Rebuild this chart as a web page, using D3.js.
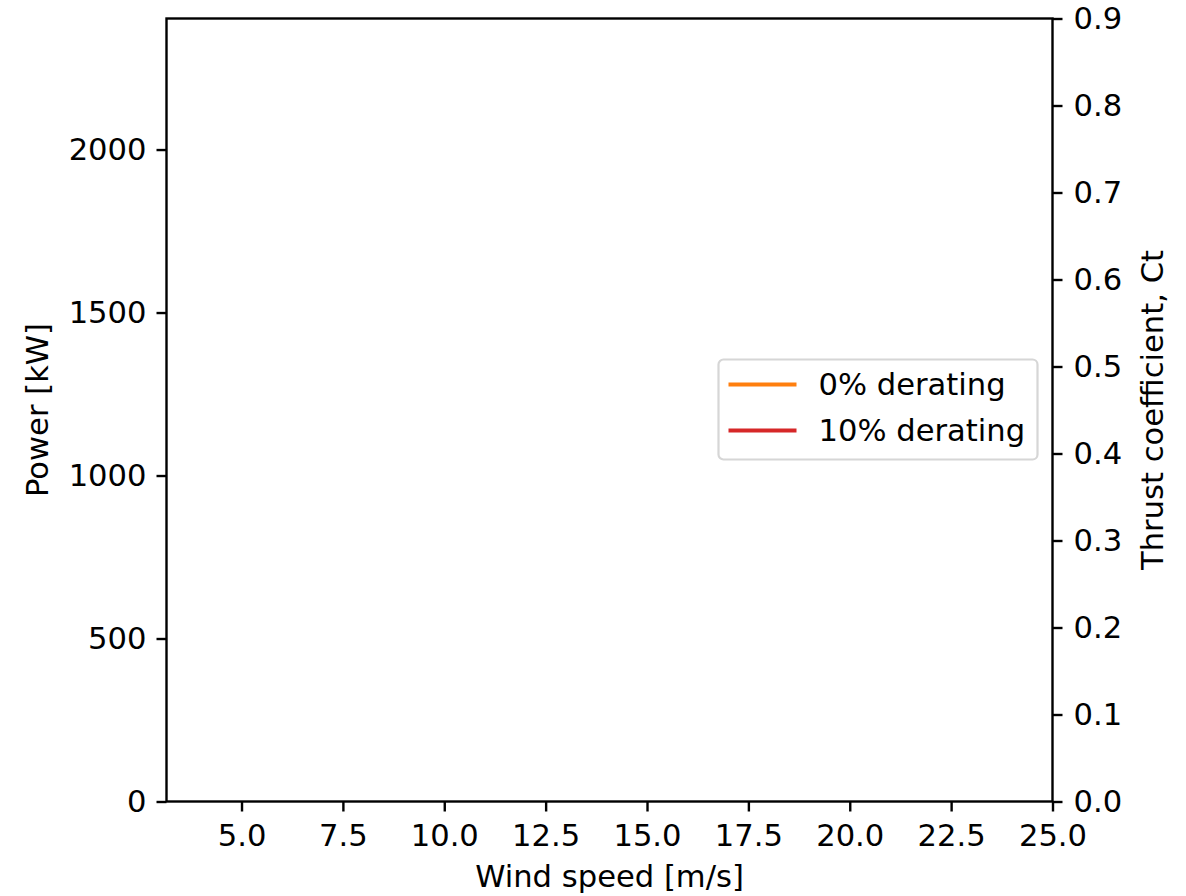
<!DOCTYPE html>
<html>
<head>
<meta charset="utf-8">
<script src="https://cdn.jsdelivr.net/npm/d3@7"></script>
<style>
  body { margin: 0; background: #fff; }
  text { font-family: "DejaVu Sans", sans-serif; }
</style>
</head>
<body>
<div id="chart"></div>
<script>
// data (the curves in the reference are empty)
const seriesNames = ["0% derating", "10% derating"];
const seriesColors = ["#ff7f0e", "#d62728"];
const windSpeed = [];
const powerSeries = [[], []];

const xTicks = [5, 7.5, 10, 12.5, 15, 17.5, 20, 22.5, 25];
const powerTicks = [0, 500, 1000, 1500, 2000];
const ctTicks = [0, 0.1, 0.2, 0.3, 0.4, 0.5, 0.6, 0.7, 0.8, 0.9];

const W = 1186, H = 896;
const margin = {top: 18.5, right: 133.5, bottom: 94.5, left: 166.5},
  width = W - margin.left - margin.right,
  height = H - margin.top - margin.bottom;

const fs = 30.6;

const svg = d3.select("#chart").append("svg")
  .attr("width", W).attr("height", H);

const g = svg.append("g")
  .attr("transform", `translate(${margin.left},${margin.top})`);

const x = d3.scaleLinear().domain([3.15, 25]).range([0, width]);
const y = d3.scaleLinear().domain([0, 2402]).range([height, 0]);
const y2 = d3.scaleLinear().domain([0, 0.9]).range([height, 0]);

function styleAxis(sel) {
  sel.select(".domain").remove();
  sel.selectAll(".tick line").attr("stroke", "#000").attr("stroke-width", 2.4);
  sel.selectAll(".tick text").style("font-size", fs + "px").attr("fill", "#000");
}

g.append("g")
  .attr("transform", `translate(0,${height})`)
  .call(d3.axisBottom(x).tickValues(xTicks).tickFormat(d3.format(".1f"))
    .tickSize(10).tickPadding(13).tickSizeOuter(0))
  .call(styleAxis);

g.append("g")
  .call(d3.axisLeft(y).tickValues(powerTicks).tickFormat(d3.format("d"))
    .tickSize(10).tickPadding(10).tickSizeOuter(0))
  .call(styleAxis);

g.append("g")
  .attr("transform", `translate(${width},0)`)
  .call(d3.axisRight(y2).tickValues(ctTicks).tickFormat(d3.format(".1f"))
    .tickSize(10).tickPadding(11).tickSizeOuter(0))
  .call(styleAxis);

// lines (empty)
const line = d3.line().x((d, i) => x(windSpeed[i])).y(d => y(d));
powerSeries.forEach((s, i) => {
  g.append("path").datum(s)
    .attr("fill", "none")
    .attr("stroke", seriesColors[i])
    .attr("stroke-width", 4)
    .attr("d", line);
});

// frame
g.append("rect")
  .attr("width", width).attr("height", height)
  .attr("fill", "none").attr("stroke", "#000").attr("stroke-width", 2.4);

// axis labels
svg.append("text")
  .attr("transform", `translate(48,${margin.top + height / 2}) rotate(-90)`)
  .attr("text-anchor", "middle")
  .style("font-size", fs + "px")
  .text("Power [kW]");

svg.append("text")
  .attr("x", margin.left + width / 2)
  .attr("y", 887)
  .attr("text-anchor", "middle")
  .style("font-size", fs + "px")
  .text("Wind speed [m/s]");

svg.append("text")
  .attr("transform", `translate(1163,${margin.top + height / 2}) rotate(-90)`)
  .attr("text-anchor", "middle")
  .style("font-size", fs + "px")
  .text("Thrust coefficient, Ct");

// legend
const legend = svg.append("g").attr("transform", "translate(718.5,359.5)");
legend.append("rect")
  .attr("width", 319).attr("height", 100)
  .attr("rx", 5)
  .attr("fill", "#fff").attr("fill-opacity", 0.8)
  .attr("stroke", "#d6d6d6").attr("stroke-width", 2.2);

seriesNames.forEach((name, i) => {
  const yy = 25 + i * 46;
  legend.append("line")
    .attr("x1", 10).attr("x2", 78)
    .attr("y1", yy).attr("y2", yy)
    .attr("stroke", seriesColors[i]).attr("stroke-width", 4);
  legend.append("text")
    .attr("x", 100).attr("y", yy)
    .attr("dy", "0.35em")
    .style("font-size", fs + "px")
    .text(name);
});
</script>
</body>
</html>
